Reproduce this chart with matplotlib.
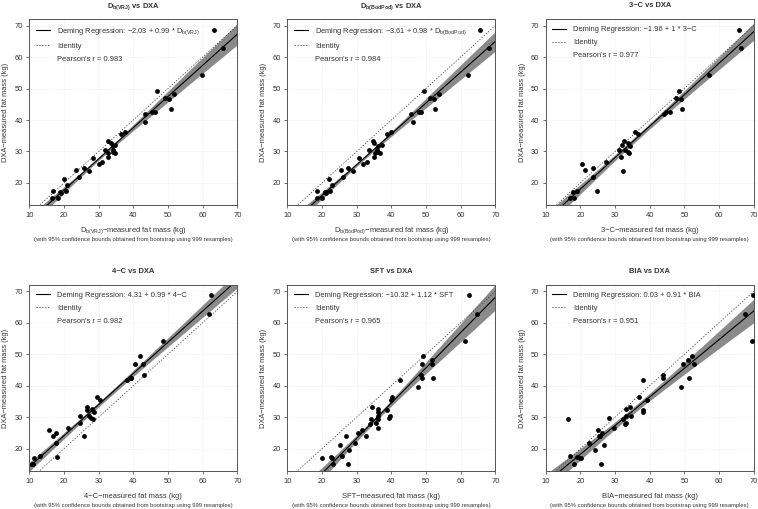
import numpy as np
import matplotlib.pyplot as plt
from matplotlib.lines import Line2D

plt.rcParams['font.family'] = ['Liberation Sans', 'DejaVu Sans']
plt.rcParams['mathtext.fontset'] = 'custom'
plt.rcParams['mathtext.rm'] = 'Liberation Sans'
plt.rcParams['mathtext.it'] = 'Liberation Sans:italic'
plt.rcParams['mathtext.bf'] = 'Liberation Sans:bold'
plt.rcParams['mathtext.default'] = 'regular'

nan = np.nan

# DXA-measured fat mass (kg), same subjects in every panel
dxa = [68.7, 62.8, 54.3, 49.3, 48.3, 46.9, 46.8, 43.5, 42.6, 42.6,
       41.9, 39.5, 36.3, 35.6, 33.2, 32.7, 32.2, 31.8, 30.4, 30.4,
       29.7, 29.5, 29.4, 28.2, 27.8, 26.5, 26.0, 24.9, 24.1, 23.9,
       21.8, 21.2, 19.5, 17.6, 17.3, 17.0, 16.9, 15.2, 15.1]

vrj = [63.3, 65.9, 59.8, 46.9, 51.8, 49.0, 50.4, 50.9, 45.5, 46.3,
       43.5, 43.3, 37.6, 36.5, 32.8, 33.7, 34.8, 34.2, 31.7, 34.0,
       34.2, 34.6, 32.8, 32.8, 28.4, 31.0, 30.2, 25.8, 23.6, 27.1,
       24.3, 20.1, 21.0, 20.5, 16.7, 18.9, 19.2, 16.5, 18.3]

bodpod = [65.7, 68.1, 62.1, 49.3, 53.8, 51.1, 52.3, 52.7, 47.9, 48.5,
          45.8, 46.2, 39.8, 38.7, 34.6, 35.0, 37.2, 36.3, 33.7, 36.0,
          36.3, 36.8, 35.2, 34.9, 30.6, 33.0, 31.8, 27.5, 25.5, 29.0,
          26.2, 22.1, 22.9, 22.2, 18.6, 21.0, 21.2, 18.7, 20.0]

three_c = [65.7, 66.2, 57.0, 48.4, nan, 47.5, 49.1, 49.3, 45.9, 44.8,
           44.1, nan, 35.9, 36.6, 32.6, 33.8, 32.0, 34.4, 31.2, 32.9,
           33.8, 34.0, nan, 31.6, nan, 27.3, 20.4, 23.6, 21.2, 32.2,
           23.6, nan, nan, 19.1, 24.8, 17.9, nan, 16.9, 18.2]

four_c = [62.4, 61.7, 48.7, 41.9, nan, 40.5, 42.9, 43.1, 39.2, 39.4,
          38.1, nan, 29.6, 30.3, 26.6, 28.0, 26.6, 28.8, 24.6, 27.3,
          27.8, 28.5, nan, 24.6, nan, 21.1, 15.8, 17.6, 16.7, 25.8,
          17.7, nan, nan, 13.2, 17.9, 11.3, nan, 10.8, 11.2]

sft = [62.5, 64.8, 61.3, 49.1, 51.6, 48.9, 51.6, 48.6, 48.9, 52.0,
       42.5, 47.6, 40.3, 39.8, 34.5, 36.1, 38.9, 36.3, 39.6, 36.3,
       39.3, 34.0, 36.2, 35.6, 33.8, 36.3, 31.5, 30.5, 32.8, 26.8,
       29.4, 25.3, 27.8, 25.7, 22.6, 20.1, 22.8, 23.2, 27.5]

bia = [69.9, 67.5, 69.4, 52.3, 51.0, 49.7, 52.8, 43.8, 43.8, 51.4,
       38.0, 49.0, 36.8, 39.3, 34.3, 33.3, 38.1, 38.1, 34.6, 33.1,
       28.4, 32.3, 16.3, 33.1, 32.8, 29.6, 25.1, 26.1, 25.3, 25.6,
       22.5, 26.9, 24.1, 17.1, 19.1, 19.8, 20.2, 18.2, 26.0]

methods = [r'D$_{b(VRJ)}$', r'D$_{b(BodPod)}$', '3\u2212C', '4\u2212C', 'SFT', 'BIA']
titles = [r'D$_{\mathbf{b(VRJ)}}$ vs DXA', r'D$_{\mathbf{b(BodPod)}}$ vs DXA',
          '3\u2212C vs DXA', '4\u2212C vs DXA', 'SFT vs DXA', 'BIA vs DXA']
xvals = [vrj, bodpod, three_c, four_c, sft, bia]
intercepts = [-2.03, -3.61, -1.96, 4.31, -10.32, 0.03]
slopes = [0.99, 0.98, 1, 0.99, 1.12, 0.91]
pearson = [0.983, 0.984, 0.977, 0.982, 0.965, 0.951]


def deming(x, y):
    mx, my = x.mean(), y.mean()
    sxx = ((x - mx) ** 2).mean()
    syy = ((y - my) ** 2).mean()
    sxy = ((x - mx) * (y - my)).mean()
    b = (syy - sxx + np.sqrt((syy - sxx) ** 2 + 4 * sxy ** 2)) / (2 * sxy)
    return my - b * mx, b


def fmt(v):
    s = ('%.2f' % v) if v != int(v) else str(int(v))
    return s.replace('-', '\u2212')


W, H = 758, 509
fig = plt.figure(figsize=(W / 100, H / 100), dpi=100)
lefts = [29.3, 287.3, 545.7]
tops = [19.3, 285.0]
aw, ah = 208.0, 186.0

sub = '(with 95% confidence bounds obtained from bootstrap using 999 resamples)'
grey = '#333333'

for k in range(6):
    r, c = divmod(k, 3)
    ax = fig.add_axes([lefts[c] / W, 1 - (tops[r] + ah) / H, aw / W, ah / H])
    x = np.array(xvals[k], dtype=float)
    y = np.array(dxa, dtype=float)
    m = ~np.isnan(x)
    x, y = x[m], y[m]

    xg = np.linspace(10, 70, 200)
    a0, b0 = intercepts[k], slopes[k]
    fit = a0 + b0 * xg
    # jackknife spread of the Deming line
    n = len(x)
    preds = []
    for i in range(n):
        keep = np.arange(n) != i
        ai, bi = deming(x[keep], y[keep])
        preds.append(ai + bi * xg)
    preds = np.array(preds)
    se = np.sqrt((n - 1) / n * ((preds - preds.mean(0)) ** 2).sum(0))
    ax.fill_between(xg, fit - 1.6 * se, fit + 1.6 * se, color='#8a8a8a', lw=0, zorder=1)
    ax.plot(xg, fit, color='black', lw=0.8, zorder=2)
    ax.plot(xg, xg, color='#444444', lw=0.6, ls=(0, (1.5, 2)), zorder=2)
    ax.scatter(x, y, s=12, color='black', lw=0, zorder=3)

    ax.set_xlim(10, 70)
    ax.set_ylim(12.9, 72.0)
    ax.set_xticks(range(10, 71, 10))
    ax.set_yticks(range(20, 71, 10))
    ax.grid(True, color='#ececec', lw=0.5, ls=(0, (1, 1)))
    ax.set_axisbelow(True)
    for s in ax.spines.values():
        s.set_color('#555555')
        s.set_linewidth(0.7)
    ax.tick_params(length=2.2, width=0.6, color='#555555', labelsize=5.4,
                   labelcolor=grey, pad=2.5)

    ax.set_title(titles[k], fontsize=5.4, fontweight='bold', pad=8.5, color=grey)
    ax.annotate(methods[k] + '\u2212measured fat mass (kg)', xy=(0.5, 0),
                xycoords='axes fraction', xytext=(0, -18.5), textcoords='offset points',
                ha='center', va='center', fontsize=5.4, color=grey)
    ax.annotate(sub, xy=(0.5, 0), xycoords='axes fraction', xytext=(0, -24.8),
                textcoords='offset points', ha='center', va='center',
                fontsize=4.2, color=grey)
    ax.annotate('DXA\u2212measured fat mass (kg)', xy=(0, 0.5), xycoords='axes fraction',
                xytext=(-17.0, 0), textcoords='offset points', ha='center',
                va='center', rotation=90, fontsize=5.4, color=grey)

    handles = [Line2D([], [], color='black', lw=0.8),
               Line2D([], [], color='#444444', lw=0.6, ls=(0, (1.5, 2))),
               Line2D([], [], color='none')]
    labels = ['Deming Regression: %s + %s * %s' % (fmt(a0), fmt(b0), methods[k]),
              'Identity', "Pearson's r = %.3f" % pearson[k]]
    ax.legend(handles, labels, loc='upper left', frameon=False, fontsize=5.4,
              handlelength=1.8, handletextpad=1.0, labelspacing=0.75,
              borderaxespad=0.5, labelcolor=grey)

fig.savefig('out.png', dpi=100)
